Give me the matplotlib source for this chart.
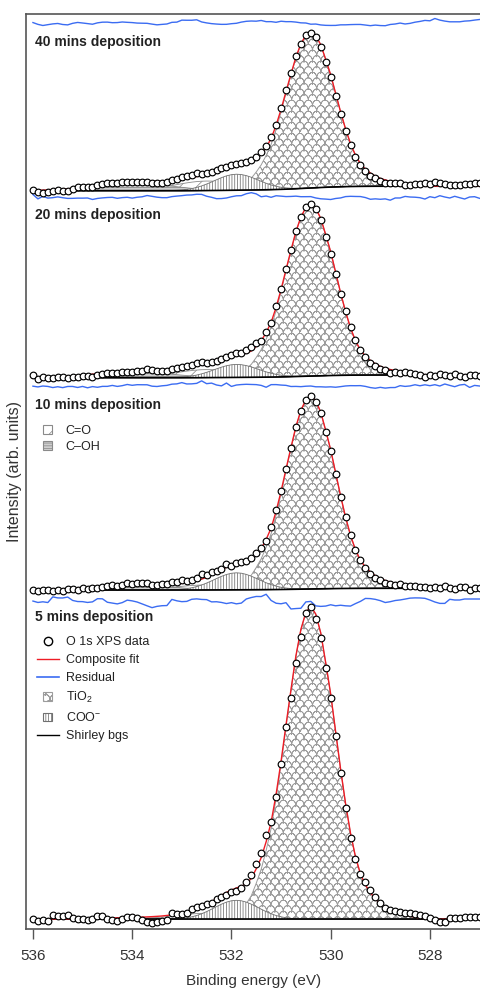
"""
Espectros O 1s (XPS) empilhados - 40, 20, 10 e 5 mins de deposição
"""
import numpy as np
import matplotlib
matplotlib.use('Agg')
import matplotlib.pyplot as plt
import matplotlib.hatch as mhatch
import matplotlib.patches as mpatches
from matplotlib.lines import Line2D
from matplotlib.legend_handler import HandlerPatch
from matplotlib.path import Path

plt.rcParams['font.family'] = ['Liberation Sans', 'DejaVu Sans']
plt.rcParams['mathtext.default'] = 'regular'
plt.rcParams['hatch.linewidth'] = 0.55

# ---------------- dados ----------------
binding_energy = np.linspace(536.0, 527.0, 91)   # passo de 0.1 eV

panel_labels = ['40 mins deposition', '20 mins deposition',
                '10 mins deposition', '5 mins deposition']

# intensidades medidas (acima da linha de base de cada painel)
intensity_40 = [0.7, -1.0, -2.0, -1.0, 0.0, 0.7, 0.0, 0.0, 2.0, 3.4,
                3.4, 3.4, 3.4, 5.4, 6.7, 7.4, 7.4, 8.0, 9.0, 9.0,
                9.0, 8.7, 8.7, 8.7, 8.0, 7.4, 8.0, 8.7, 10.7, 11.4,
                14.0, 14.7, 15.7, 17.4, 16.7, 17.4, 19.0, 20.7, 22.4, 24.0,
                25.7, 26.7, 28.0, 29.0, 30.7, 34.0, 39.0, 44.7, 53.5, 66.0,
                83.0, 100.5, 118.0, 134.5, 147.0, 155.5, 157.5, 154.0, 144.0, 129.0,
                113.5, 95.0, 77.0, 60.0, 45.5, 34.0, 25.5, 19.5, 15.0, 12.5,
                9.7, 8.0, 8.0, 7.4, 7.4, 5.7, 5.7, 6.4, 6.7, 7.4,
                6.7, 9.0, 7.4, 6.4, 5.7, 5.7, 5.7, 6.4, 6.7, 7.4, 8.0]
intensity_20 = [2.7, -1.6, 1.0, -0.6, 0.0, 1.0, 0.4, 0.0, 0.4, 1.0,
                1.4, 2.0, 1.0, 2.5, 3.5, 4.4, 5.0, 4.4, 5.4, 6.0,
                5.4, 6.4, 7.0, 8.4, 7.7, 7.0, 6.7, 7.0, 8.4, 9.4,
                10.4, 11.7, 12.7, 14.4, 15.5, 15.0, 16.0, 16.5, 18.4, 20.4,
                22.7, 24.4, 25.0, 27.7, 31.0, 34.4, 37.0, 46.0, 55.0, 71.5,
                89.0, 108.5, 128.0, 147.0, 161.0, 170.5, 174.0, 168.5, 157.5, 141.0,
                123.5, 104.0, 84.0, 66.5, 50.5, 37.5, 28.0, 21.0, 15.0, 12.0,
                9.0, 7.7, 5.0, 6.0, 5.0, 5.7, 4.4, 3.7, 2.7, 1.0,
                3.0, 2.0, 4.0, 2.7, 1.7, 3.4, 2.0, 0.7, 2.7, 3.0, 1.4]
intensity_10 = [0.0, -0.7, 0.3, 0.0, -1.0, 0.0, -0.7, 0.7, 1.0, 0.3,
                1.7, 0.7, 2.3, 2.0, 3.3, 3.7, 5.0, 4.3, 5.3, 6.7,
                6.0, 6.7, 6.7, 6.7, 5.3, 5.0, 5.7, 6.3, 7.7, 8.3,
                10.0, 9.3, 10.3, 12.0, 16.0, 15.0, 18.3, 19.0, 20.7, 25.7,
                24.0, 26.7, 28.0, 29.3, 31.7, 36.7, 42.0, 49.3, 63.3, 80.0,
                99.5, 121.5, 142.0, 163.0, 179.0, 190.0, 194.0, 188.5, 177.0, 158.5,
                139.5, 116.0, 93.5, 73.0, 55.0, 40.5, 30.0, 22.5, 16.5, 12.0,
                10.0, 7.3, 6.3, 5.0, 5.7, 4.0, 3.7, 4.3, 2.7, 3.3,
                2.0, 3.0, 1.7, 3.7, 2.3, 1.0, 2.7, 3.3, 0.3, 2.3, 1.7]
intensity_5 = [0.0, -1.4, -0.7, -1.4, 4.3, 3.3, 3.3, 4.3, 1.0, 0.0,
               0.0, -0.7, 0.0, 3.3, 3.3, 0.0, -0.7, -1.4, 0.0, 2.6,
               2.0, 1.0, -0.7, -2.4, -4.0, -2.4, -1.4, -0.7, 6.0, 5.3,
               5.3, 6.6, 10.0, 12.0, 13.3, 15.3, 16.6, 20.0, 22.6, 24.3,
               27.6, 28.5, 31.0, 37.6, 44.3, 55.0, 66.0, 84.3, 97.6, 122.6,
               155.0, 192.6, 221.6, 256.0, 282.6, 306.0, 312.6, 300.3, 281.0, 251.6,
               221.6, 183.0, 146.0, 111.0, 81.0, 60.0, 45.0, 37.0, 29.0, 22.0,
               16.0, 11.0, 9.3, 8.3, 7.0, 6.3, 6.0, 5.3, 4.3, 3.3,
               1.0, -1.0, -2.4, -2.4, 1.7, 1.0, 1.0, 2.0, 2.0, 2.0, 2.0]

# amplitudes dos componentes do ajuste (40, 20, 10, 5 mins)
tio2_amp = [156, 172, 193, 313]
coo_amp = [16, 13, 17, 19]
co_amp = [9.5, 8, 5, 6]        # C=O
coh_amp = [8, 6, 5, 1.5]       # C-OH
bg_rise = [4.5, 2.7, 1.7, 0.0]

# formas normalizadas dos componentes (passo 0.1 eV)
tio2_shape = [.004, .007, .011, .015, .02, .027, .036, .05, .075, .115,
              .16, .22, .29, .385, .495, .615, .73, .84, .925, .98,
              1.0, .975, .915, .82, .72, .60, .48, .37, .275, .20,
              .145, .11, .085, .065, .05, .04, .032, .025, .019, .014,
              .01, .007, .004, .002]                       # a partir de 532.4 eV
coo_shape = [.007, .014, .027, .048, .081, .13, .20, .291, .405, .533,
             .669, .797, .904, .975, 1.0, .975, .904, .797, .669, .533,
             .405, .291, .20, .13, .081, .048, .027, .014, .007]   # a partir de 533.3 eV
co_shape = [.007, .012, .018, .028, .042, .062, .089, .125, .17, .225,
            .292, .369, .455, .547, .642, .735, .821, .895, .952, .988,
            1.0, .988, .952, .895, .821, .735, .642, .547, .455, .369,
            .292, .225, .17, .125, .089, .062, .042, .028, .018, .012, .007]  # a partir de 534.5 eV
coh_shape = [.033, .045, .062, .084, .112, .146, .187, .235, .291, .355,
             .425, .50, .578, .657, .735, .807, .872, .926, .966, .991,
             1.0, .991, .966, .926, .872, .807, .735, .657, .578, .50,
             .425, .355, .291, .235, .187, .146, .112, .084, .062, .045,
             .033, .023, .016, .011, .007]                 # a partir de 536.0 eV
shirley_step = [.995, .99, .985, .975, .965, .955, .945, .935, .92, .905,
                .89, .875, .86, .845, .83, .81, .79, .765, .735, .70,
                .66, .615, .565, .51, .455, .40, .345, .29, .24, .195,
                .155, .12, .09, .068, .05, .036, .026, .018, .012, .008,
                .005, .003, .001]                          # a partir de 532.9 eV


def on_grid(seg, start_ev, before=0.0):
    """coloca um trecho na grade de energia"""
    i0 = int(round((536.0 - start_ev) * 10))
    out = np.zeros(binding_energy.size)
    out[:i0] = before
    out[i0:i0 + len(seg)] = seg
    return out


tio2 = on_grid(tio2_shape, 532.4)
coo = on_grid(coo_shape, 533.3)
co = on_grid(co_shape, 534.5)
coh = on_grid(coh_shape, 536.0)
step = on_grid(shirley_step, 532.9, before=1.0)


# ---------------- hachura em escamas (TiO2) ----------------
class ScaleHatch(mhatch.HatchPatternBase):
    """escamas no lugar dos circulos 'o' (arcos de ida e volta, sem area)"""
    ncols, nrows, nseg = 12, 18, 8

    def __init__(self, hatch, density):
        self.on = 'o' in hatch
        n_arcs = (self.nrows // 2) * (2 * self.ncols + 1)
        self.num_vertices = n_arcs * (2 * self.nseg + 1) if self.on else 0

    def set_vertices_and_codes(self, vertices, codes):
        w, h = 1.0 / self.ncols, 1.0 / self.nrows
        t = np.linspace(0, np.pi, self.nseg + 1)
        arcs = []
        for j in range(self.nrows):
            odd = j % 2
            for k in range(self.ncols + odd):
                cx = (k + 0.5 - 0.5 * odd) * w
                pts = np.column_stack([cx + 0.5 * w * np.cos(t), j * h + h * np.sin(t)])
                arcs.append(np.concatenate([pts, pts[-2::-1]]))
        vertices[:] = np.concatenate(arcs)
        codes[:] = Path.LINETO
        codes[0::2 * self.nseg + 1] = Path.MOVETO


mhatch._hatch_types = [ScaleHatch if t is mhatch.SmallCircles else t
                       for t in mhatch._hatch_types]

RED = '#ee1c25'
BLUE = '#3b6cf2'
GRAY = '#8a8a8a'
SCALE = '#9c9c9c'

fig = plt.figure(figsize=(4.8, 9.9), dpi=100)
ax = fig.add_axes([26 / 480, 61 / 990, 455 / 480, 915 / 990])

intensities = [intensity_40, intensity_20, intensity_10, intensity_5]
baselines = [738.3, 551.3, 339.0, 9.7]
res_levels = [906, 732, 543, 328]
label_y = [887, 714, 524, 312]

for p in range(4):
    base = baselines[p]
    data = base + np.array(intensities[p])
    bg = base + bg_rise[p] * (1 - step)
    c_tio2 = tio2_amp[p] * tio2
    c_coo = coo_amp[p] * coo
    c_co = co_amp[p] * co
    c_coh = coh_amp[p] * coh
    fit = bg + c_tio2 + c_coo + c_co + c_coh

    ax.fill_between(binding_energy, bg, bg + c_tio2, facecolor='white',
                    edgecolor=SCALE, hatch='o', lw=0.7, zorder=1)
    ax.fill_between(binding_energy, bg, bg + c_co, facecolor='white',
                    edgecolor=GRAY, hatch='//', lw=0.6, zorder=2)
    ax.fill_between(binding_energy, bg, bg + c_coh, facecolor='#cfcfcf',
                    edgecolor=GRAY, hatch='------', lw=0.6, zorder=3)
    ax.fill_between(binding_energy, bg, bg + c_coo, facecolor='white',
                    edgecolor='#707070', hatch='||||||', lw=0.6, zorder=4)
    ax.plot(binding_energy, bg, color='black', lw=1.2, zorder=5)
    ax.plot(binding_energy, fit, color=RED, lw=1.0, zorder=6)
    ax.plot(binding_energy, data, ls='none', marker='o', ms=4.8, mfc='white',
            mec='black', mew=0.85, zorder=7)
    ax.plot(binding_energy, res_levels[p] + data - fit, color=BLUE, lw=1.0, zorder=6)

    ax.text(535.96, label_y[p], panel_labels[p], fontsize=10, fontweight='bold',
            va='center', ha='left', color='#222222')


def square(legend, orig_handle, xdescent, ydescent, width, height, fontsize):
    side = 1.0 * height
    return mpatches.Rectangle((width / 2 - side / 2 - xdescent,
                               height / 2 - side / 2 - ydescent), side, side)


hmap = {mpatches.Patch: HandlerPatch(patch_func=square)}
leg_kw = dict(loc='upper left', frameon=False, fontsize=9, handlelength=1.76,
              handletextpad=0.55, borderpad=0, borderaxespad=0,
              labelcolor='#222222', handler_map=hmap)

handles5 = [Line2D([], [], ls='none', marker='o', ms=6, mfc='white', mec='black', mew=1),
            Line2D([], [], color=RED, lw=1),
            Line2D([], [], color=BLUE, lw=1.2),
            mpatches.Patch(facecolor='white', edgecolor=SCALE, hatch='o', lw=0.8),
            mpatches.Patch(facecolor='white', edgecolor='#707070', hatch='||||||', lw=0.8),
            Line2D([], [], color='black', lw=1)]
labels5 = ['O 1s XPS data', 'Composite fit', 'Residual', 'TiO$_2$', 'COO$^{-}$', 'Shirley bgs']
leg5 = ax.legend(handles5, labels5, bbox_to_anchor=(0.0235, 0.32),
                 labelspacing=0.48, **leg_kw)
ax.add_artist(leg5)

handles10 = [mpatches.Patch(facecolor='white', edgecolor=GRAY, hatch='//', lw=0.8),
             mpatches.Patch(facecolor='#cfcfcf', edgecolor=GRAY, hatch='------', lw=0.8)]
ax.legend(handles10, ['C=O', 'C\u2013OH'], bbox_to_anchor=(0.0235, 0.5507),
          labelspacing=0.3, **leg_kw)

ax.set_xlim(536.14, 526.97)
ax.set_ylim(0, 915)
ax.set_xticks([536, 534, 532, 530, 528])
ax.set_yticks([])
ax.tick_params(axis='x', direction='out', length=7.5, width=1, color='#555555',
               labelsize=11, pad=7, labelcolor='#333333')
ax.set_xlabel('Binding energy (eV)', fontsize=11, color='#333333', labelpad=8)
ax.set_ylabel('Intensity (arb. units)', fontsize=11.5, color='#333333', labelpad=3)
for side in ['left', 'top', 'bottom']:
    ax.spines[side].set_color('#555555')
    ax.spines[side].set_linewidth(1.2)
ax.spines['right'].set_visible(False)

fig.savefig('out.png', dpi=100)
